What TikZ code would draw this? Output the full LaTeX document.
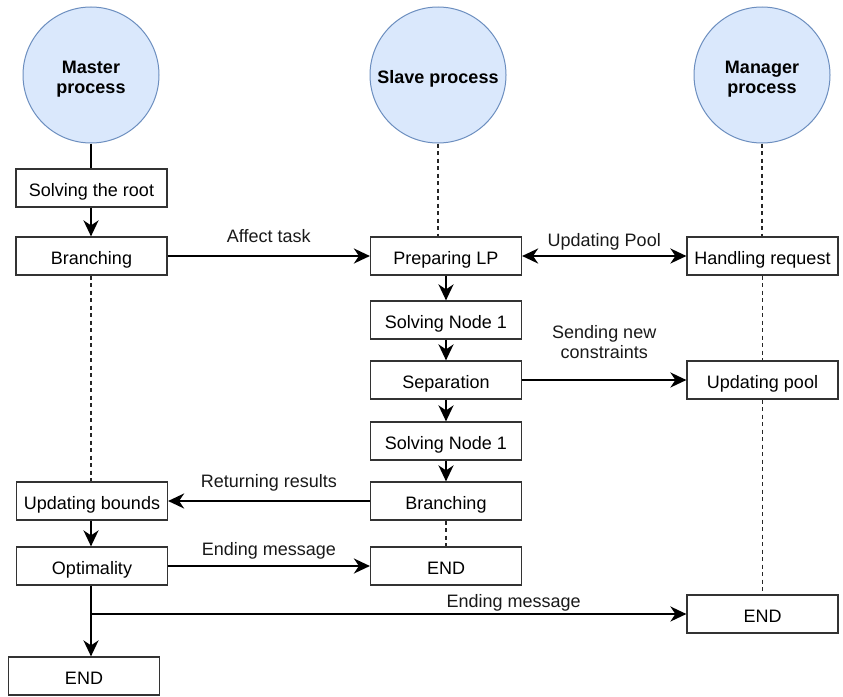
\documentclass[tikz,border=0pt]{standalone}
\usepackage{fontspec}
\setmainfont{Liberation Sans}
\usetikzlibrary{arrows.meta,calc}
\definecolor{circfill}{HTML}{DAE8FC}
\definecolor{circline}{HTML}{6C8EBF}
\definecolor{boxline}{HTML}{333333}
\begin{document}
\begin{tikzpicture}[x=1pt,y=-1pt,
  font=\fontsize{18}{20}\selectfont,
  proc/.style={circle,draw=circline,fill=circfill,line width=1pt,minimum size=136pt,inner sep=0pt},
  proctext/.style={inner sep=0pt,align=center,font=\fontsize{18}{20}\selectfont\bfseries},
  stepbox/.style={draw=boxline,line width=1.2pt,minimum width=151pt,minimum height=38pt,inner sep=0pt,text height=16pt,text depth=0pt,fill=white},
  flow/.style={line width=2.2pt,-{Stealth[length=16pt,width=15pt,inset=5pt]}},
  twoway/.style={line width=2.2pt,{Stealth[length=16pt,width=15pt,inset=5pt]}-{Stealth[length=16pt,width=15pt,inset=5pt]}},
  solidline/.style={line width=2.2pt},
  dline/.style={line width=1.2pt,draw=black!85,dash pattern=on 4pt off 3.5pt},
  lbl/.style={inner sep=0pt,align=center,text=black!90}
]
\useasboundingbox (0,0) rectangle (843,696);

% process circles
\node[proc] (master) at (91,75) {};
\node[proc] (slave) at (438,75) {};
\node[proc] (manager) at (762,75) {};
\node[proctext] (masterT) at (91,79) {Master\\process};
\node[proctext] (slaveT) at (438,79) {Slave process};
\node[proctext] (managerT) at (762,79) {Manager\\process};

% master column
\node[stepbox] (root) at (91.5,188) {Solving the root};
\node[stepbox] (mbranch) at (91.5,256) {Branching};
\node[stepbox] (ubounds) at (92,501) {Updating bounds};
\node[stepbox] (opt) at (92,566) {Optimality};
\node[stepbox] (mend) at (84,676) {END};

% slave column
\node[stepbox] (prep) at (446,256) {Preparing LP};
\node[stepbox] (solve1) at (446,320) {Solving Node 1};
\node[stepbox] (sep) at (446,380) {Separation};
\node[stepbox] (solve2) at (446,441) {Solving Node 1};
\node[stepbox] (sbranch) at (446,501) {Branching};
\node[stepbox] (send) at (446,566) {END};

% manager column
\node[stepbox] (handle) at (762.5,256) {Handling request};
\node[stepbox] (upool) at (762.5,380) {Updating pool};
\node[stepbox] (gend) at (762.5,614) {END};

% lifelines
\draw[solidline] (master.south) -- (master.south |- root.north);
\draw[dline] (slave.south) -- (slave.south |- prep.north);
\draw[dline] (manager.south) -- (manager.south |- handle.north);
\draw[dline] (handle.south) -- (upool.north);
\draw[dline] (upool.south) -- (gend.north);
\draw[dline] (mbranch.south -| master.south) -- (ubounds.north -| master.south);
\draw[dline] (sbranch.south) -- (send.north);

% master flow
\draw[flow] (root.south -| master.south) -- (mbranch.north -| master.south);
\draw[flow] (ubounds.south -| master.south) -- (opt.north -| master.south);
\coordinate (split) at (opt.south -| master.south);
\coordinate (fork) at (master.south |- gend.west);
\draw[flow] (split) -- (mend.north -| master.south);
\draw[flow] (fork) -- (gend.west) node[lbl,pos=0.71,above=2pt] {Ending message};

% slave flow
\draw[flow] (prep) -- (solve1);
\draw[flow] (solve1) -- (sep);
\draw[flow] (sep) -- (solve2);
\draw[flow] (solve2) -- (sbranch);

% messages
\draw[flow] (mbranch.east) -- (prep.west) node[lbl,midway,above=12pt] {Affect task};
\draw[twoway] (prep.east) -- (handle.west) node[lbl,midway,above=5pt] {Updating Pool};
\draw[flow] (sep.east) -- (upool.west) node[lbl,pos=0.5,above=20pt] {Sending new\\constraints};
\draw[flow] (sbranch.west) -- (ubounds.east) node[lbl,midway,above=9pt] {Returning results};
\draw[flow] (opt.east) -- (send.west) node[lbl,midway,above=6pt] {Ending message};
\end{tikzpicture}
\end{document}
